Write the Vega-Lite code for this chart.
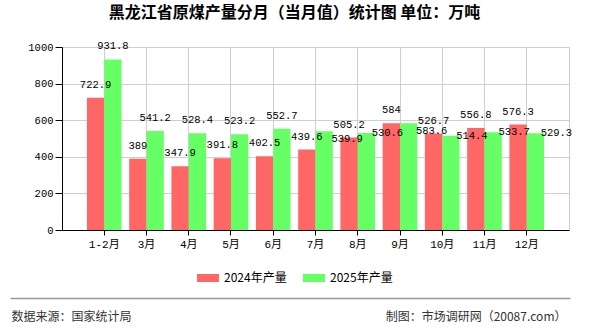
{
  "$schema": "https://vega.github.io/schema/vega-lite/v6.json",
  "width": 507,
  "height": 183,
  "autosize": {"type": "none"},
  "padding": {"left": 62, "top": 47, "right": 21, "bottom": 100},
  "background": "white",
  "title": {
    "text": "黑龙江省原煤产量分月（当月值）统计图 单位：万吨",
    "font": "Noto Sans CJK SC",
    "fontSize": 16,
    "fontWeight": "bold",
    "color": "#000000",
    "anchor": "middle",
    "baseline": "middle",
    "offset": 12,
    "dx": -21
  },
  "config": {
    "view": {"stroke": "#cccccc"},
    "font": "Noto Sans CJK SC"
  },
  "data": {
    "values": [
      {"month": "1-2月", "series": "2024年产量", "value": 722.9},
      {"month": "3月", "series": "2024年产量", "value": 389},
      {"month": "4月", "series": "2024年产量", "value": 347.9},
      {"month": "5月", "series": "2024年产量", "value": 391.8},
      {"month": "6月", "series": "2024年产量", "value": 402.5},
      {"month": "7月", "series": "2024年产量", "value": 439.6},
      {"month": "8月", "series": "2024年产量", "value": 505.2},
      {"month": "9月", "series": "2024年产量", "value": 584},
      {"month": "10月", "series": "2024年产量", "value": 526.7},
      {"month": "11月", "series": "2024年产量", "value": 556.8},
      {"month": "12月", "series": "2024年产量", "value": 576.3},
      {"month": "1-2月", "series": "2025年产量", "value": 931.8},
      {"month": "3月", "series": "2025年产量", "value": 541.2},
      {"month": "4月", "series": "2025年产量", "value": 528.4},
      {"month": "5月", "series": "2025年产量", "value": 523.2},
      {"month": "6月", "series": "2025年产量", "value": 552.7},
      {"month": "7月", "series": "2025年产量", "value": 539.9},
      {"month": "8月", "series": "2025年产量", "value": 530.6},
      {"month": "9月", "series": "2025年产量", "value": 583.6},
      {"month": "10月", "series": "2025年产量", "value": 514.4},
      {"month": "11月", "series": "2025年产量", "value": 533.7},
      {"month": "12月", "series": "2025年产量", "value": 529.3}
    ]
  },
  "layer": [
    {
      "encoding": {
        "x": {
          "field": "month",
          "type": "nominal",
          "sort": ["1-2月", "3月", "4月", "5月", "6月", "7月", "8月", "9月", "10月", "11月", "12月"],
          "scale": {"paddingInner": 0.18, "paddingOuter": 0.59},
          "axis": {
            "title": null,
            "orient": "bottom",
            "bandPosition": 0.5,
            "grid": true,
            "gridColor": "#cfcfcf",
            "gridOpacity": 1,
            "domainColor": "#000000",
            "domainOpacity": 1,
            "tickColor": "#000000",
            "tickOpacity": 1,
            "tickSize": 5,
            "labelAngle": 0,
            "labelFont": "Liberation Mono, Noto Sans CJK SC",
            "labelFontSize": 11,
            "labelColor": "#000000",
            "labelPadding": 3
          }
        },
        "xOffset": {
          "field": "series",
          "type": "nominal",
          "sort": ["2024年产量", "2025年产量"],
          "scale": {"paddingInner": 0, "paddingOuter": 0}
        },
        "y": {
          "field": "value",
          "type": "quantitative",
          "scale": {"domain": [0, 1000], "nice": false},
          "axis": {
            "title": null,
            "values": [0, 200, 400, 600, 800, 1000],
            "format": "d",
            "grid": true,
            "gridColor": "#cfcfcf",
            "gridOpacity": 1,
            "domainColor": "#000000",
            "domainOpacity": 1,
            "tickColor": "#000000",
            "tickOpacity": 1,
            "tickSize": 7,
            "labelPadding": 2,
            "labelFont": "Liberation Mono",
            "labelFontSize": 10.5,
            "labelColor": "#000000"
          }
        }
      },
      "layer": [
        {
          "mark": {"type": "bar"},
          "encoding": {
            "color": {
              "field": "series",
              "type": "nominal",
              "scale": {"domain": ["2024年产量", "2025年产量"], "range": ["#ff6666", "#66ff66"]},
              "legend": {
                "orient": "none",
                "legendX": 135,
                "legendY": 220,
                "direction": "horizontal",
                "title": null,
                "symbolType": "M-1,-0.364H1V0.364H-1Z",
                "symbolSize": 484,
                "symbolStrokeWidth": 0,
                "symbolOpacity": 1,
                "labelFont": "Noto Sans CJK SC",
                "labelFontSize": 12,
                "labelColor": "#000000",
                "labelOffset": 5,
                "columnPadding": 16
              }
            }
          }
        },
        {
          "transform": [
            {"filter": "datum.series == '2024年产量' || indexof(['1-2月','3月','4月','5月','6月'], datum.month) >= 0"}
          ],
          "mark": {"type": "text", "font": "Liberation Mono", "fontSize": 10.5, "color": "#000000", "baseline": "middle", "dy": -13},
          "encoding": {"text": {"field": "value", "type": "nominal"}}
        },
        {
          "transform": [
            {"filter": "datum.series == '2025年产量' && indexof(['8月','10月','11月','12月'], datum.month) >= 0"}
          ],
          "mark": {"type": "text", "font": "Liberation Mono", "fontSize": 10.5, "color": "#000000", "baseline": "middle", "dx": 21, "dy": 0},
          "encoding": {"text": {"field": "value", "type": "nominal"}}
        },
        {
          "transform": [
            {"filter": "datum.series == '2025年产量' && indexof(['7月','9月'], datum.month) >= 0"}
          ],
          "mark": {"type": "text", "font": "Liberation Mono", "fontSize": 10.5, "color": "#000000", "baseline": "middle", "dx": 23, "dy": 8},
          "encoding": {"text": {"field": "value", "type": "nominal"}}
        }
      ]
    },
    {
      "data": {"values": [{"f": 0}]},
      "mark": {"type": "point", "opacity": 0},
      "encoding": {
        "x": {
          "field": "f",
          "type": "quantitative",
          "scale": {"domain": [0, 1], "range": [-52, 508]},
          "axis": {
            "orient": "bottom",
            "offset": 68,
            "domainColor": "#999999",
            "domainWidth": 1.5,
            "ticks": false,
            "labels": false,
            "grid": false,
            "title": "数据来源：国家统计局",
            "titleFont": "Noto Sans CJK SC",
            "titleFontSize": 12,
            "titleFontWeight": "normal",
            "titleColor": "#333333",
            "titleAnchor": "start",
            "titleAlign": "left",
            "titleBaseline": "middle",
            "titleX": -51,
            "titleY": 18
          }
        },
        "y": {
          "field": "f",
          "type": "quantitative",
          "scale": {"domain": [0, 1]},
          "axis": {
            "orient": "right",
            "domain": false,
            "ticks": false,
            "labels": false,
            "grid": false,
            "title": "制图：市场调研网（20087.com）",
            "titleFont": "Noto Sans CJK SC",
            "titleFontSize": 12,
            "titleFontWeight": "normal",
            "titleColor": "#333333",
            "titleAngle": 0,
            "titleAlign": "right",
            "titleBaseline": "middle",
            "titleX": -3,
            "titleY": 269
          }
        }
      }
    }
  ],
  "resolve": {
    "scale": {"x": "independent", "y": "independent"},
    "axis": {"x": "independent", "y": "independent"}
  }
}
